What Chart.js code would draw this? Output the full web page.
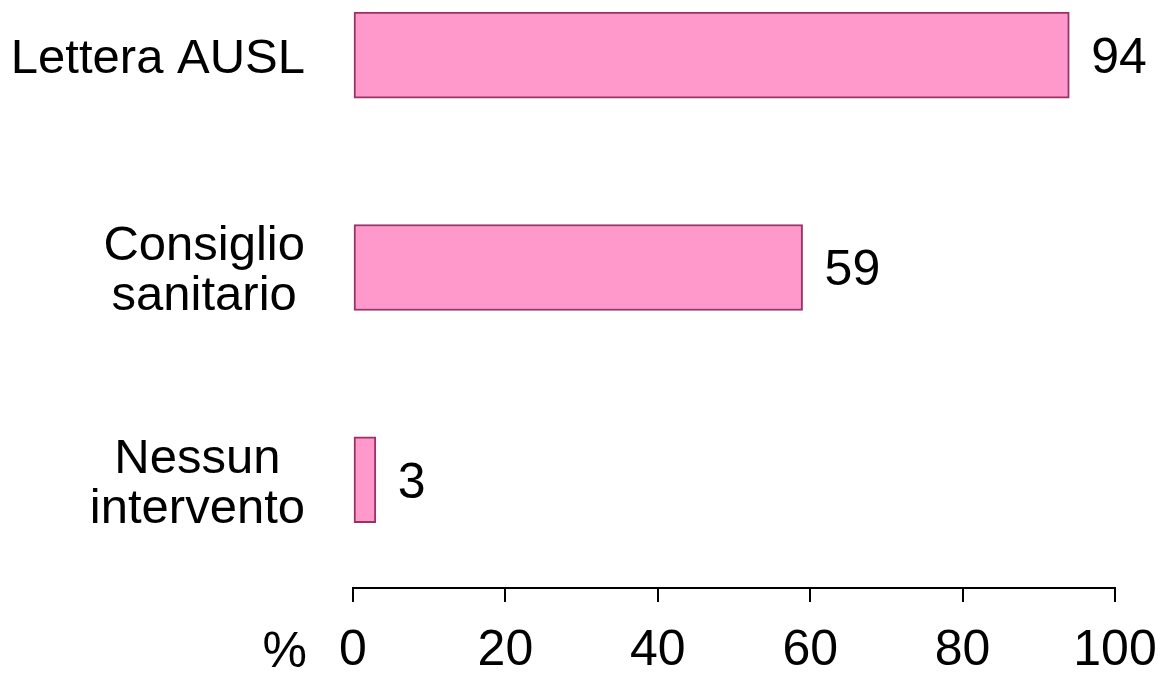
<!DOCTYPE html>
<html>
<head>
<meta charset="utf-8">
<script src="https://cdn.jsdelivr.net/npm/chart.js@4.4.1/dist/chart.umd.min.js"></script>
<style>
  html, body { margin: 0; padding: 0; background: #ffffff; }
  #wrap { width: 1169px; height: 673px; position: relative; }
</style>
</head>
<body>
<div id="wrap"><canvas id="c" width="1169" height="673"></canvas></div>
<script>
// ---- data ----
const categories = [["Lettera AUSL"], ["Consiglio", "sanitario"], ["Nessun", "intervento"]];
const values = [94, 59, 3];
const xTickValues = [0, 20, 40, 60, 80, 100];
const unitLabel = "%";

const FONT = "'Liberation Sans', Arial, sans-serif";

const points = values.map((v, i) => ({ x: v, y: i }));

const labelPlugin = {
  id: 'labels',
  afterDatasetsDraw(chart) {
    const ctx = chart.ctx;
    const yScale = chart.scales.y;
    const meta = chart.getDatasetMeta(0);
    ctx.save();
    ctx.fillStyle = '#000000';
    // value labels
    ctx.font = '50px ' + FONT;
    ctx.textAlign = 'left';
    ctx.textBaseline = 'alphabetic';
    meta.data.forEach((bar, i) => {
      ctx.fillText(String(values[i]), bar.x + 22, bar.y + 18);
    });
    // category labels (block right-aligned, lines centered)
    ctx.font = '49px ' + FONT;
    ctx.textAlign = 'center';
    const rightEdge = chart.chartArea.left - 48;
    const lineGap = 50;
    categories.forEach((lines, i) => {
      const cy = yScale.getPixelForValue(i);
      const maxW = Math.max(...lines.map(l => ctx.measureText(l).width));
      const cx = rightEdge - maxW / 2;
      const n = lines.length;
      lines.forEach((l, k) => {
        ctx.fillText(l, cx, cy + 18 + (k - (n - 1) / 2) * lineGap);
      });
    });
    // unit label beside x ticks
    ctx.font = '50px ' + FONT;
    ctx.textAlign = 'right';
    ctx.fillText(unitLabel, chart.chartArea.left - 46, 667);
    ctx.restore();
  }
};

new Chart(document.getElementById('c'), {
  type: 'bar',
  data: {
    datasets: [{
      data: points,
      backgroundColor: '#FF99CC',
      borderColor: '#993366',
      borderWidth: 2,
      borderSkipped: false,
      barThickness: 86
    }]
  },
  options: {
    indexAxis: 'y',
    responsive: false,
    animation: false,
    events: [],
    layout: { padding: { left: 353, right: 54, top: 0, bottom: 0 } },
    plugins: { legend: { display: false }, tooltip: { enabled: false } },
    scales: {
      x: {
        type: 'linear',
        min: 0,
        max: 100,
        afterBuildTicks: (s) => { s.ticks = xTickValues.map(v => ({ value: v })); },
        afterFit: (s) => { s.height = 85; s.paddingLeft = 0; s.paddingRight = 0; },
        grid: { display: true, drawOnChartArea: false, drawTicks: true, tickLength: 14, color: '#000000', lineWidth: 2 },
        border: { display: true, color: '#000000', width: 2 },
        ticks: { color: '#000000', font: { family: FONT, size: 50, lineHeight: 1.0 }, padding: 24, maxRotation: 0 }
      },
      y: {
        type: 'linear',
        reverse: true,
        offset: false,
        min: -0.26,
        max: 2.51,
        display: false
      }
    }
  },
  plugins: [labelPlugin]
});
</script>
</body>
</html>
